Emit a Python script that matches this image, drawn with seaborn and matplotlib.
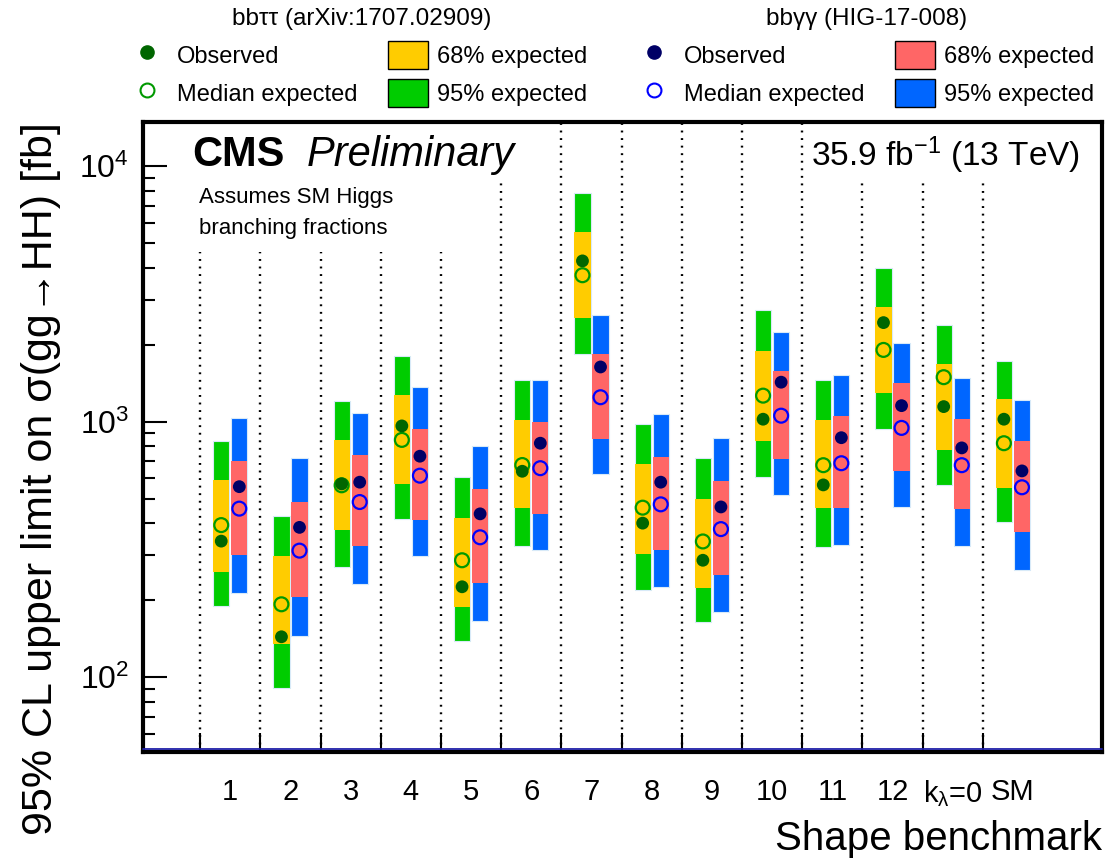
import numpy as np
import pandas as pd
import matplotlib
matplotlib.use("Agg")
import matplotlib.pyplot as plt
import seaborn as sns
from matplotlib.lines import Line2D
from matplotlib.patches import Patch
from matplotlib.ticker import LogLocator, FixedLocator, NullFormatter

# Shape benchmarks
categories = ["1", "2", "3", "4", "5", "6", "7", "8", "9", "10", "11", "12",
              "k$_{\\lambda}$=0", "SM"]

# bbtautau (arXiv:1707.02909) limits [fb]
obs_tt = [341, 144, 571, 963, 226, 640, 4260, 401, 287, 1023, 566, 2443, 1146, 1023]
exp_tt = [394, 193, 564, 849, 287, 677, 3744, 461, 340, 1265, 676, 1910, 1494, 824]
lo68_tt = [259, 135, 376, 571, 188, 461, 2541, 305, 224, 843, 459, 1296, 776, 552]
hi68_tt = [590, 299, 847, 1276, 421, 1019, 5517, 686, 499, 1898, 1016, 2814, 1689, 1228]
lo95_tt = [190, 91, 270, 418, 139, 327, 1842, 219, 165, 606, 322, 940, 566, 404]
hi95_tt = [843, 429, 1206, 1814, 608, 1461, 7839, 980, 719, 2746, 1453, 3999, 2399, 1735]

# bbgammagamma (HIG-17-008) limits [fb]
obs_gg = [557, 386, 580, 733, 436, 824, 1638, 580, 464, 1428, 866, 1156, 790, 642]
exp_gg = [457, 313, 485, 615, 353, 658, 1247, 475, 380, 1056, 688, 946, 676, 554]
lo68_gg = [301, 206, 325, 414, 234, 437, 856, 316, 251, 715, 461, 642, 456, 370]
hi68_gg = [702, 485, 741, 937, 546, 998, 1847, 726, 585, 1577, 1051, 1415, 1026, 841]
lo95_gg = [214, 145, 232, 297, 166, 314, 625, 225, 180, 518, 330, 465, 327, 264]
hi95_gg = [1032, 719, 1085, 1365, 806, 1461, 2611, 1073, 862, 2253, 1525, 2029, 1480, 1220]

sns.set_style("ticks")
plt.rcParams["font.family"] = ["Liberation Sans", "DejaVu Sans"]
plt.rcParams["mathtext.fontset"] = "custom"
plt.rcParams["mathtext.rm"] = "Liberation Sans"
plt.rcParams["mathtext.it"] = "Liberation Sans:italic"
plt.rcParams["mathtext.bf"] = "Liberation Sans:bold"
plt.rcParams["mathtext.default"] = "regular"
for key in ["text.color", "axes.labelcolor", "xtick.color", "ytick.color"]:
    plt.rcParams[key] = "black"

# colours
c95_tt, c68_tt = "#00cc00", "#ffcc00"
c95_gg, c68_gg = "#0066ff", "#ff6666"
cobs_tt, cexp_tt = "#006600", "#009900"
cobs_gg, cexp_gg = "#000066", "#0000ff"

fig = plt.figure(figsize=(11.17, 8.6), dpi=100)
ax = fig.add_axes([0.128, 0.1256, 0.8586, 0.7326])

x = np.arange(1, len(categories) + 1)
off = 0.15
w = 0.27

def bands(xpos, lo95, hi95, lo68, hi68, c95, c68):
    lo95, hi95 = np.array(lo95), np.array(hi95)
    lo68, hi68 = np.array(lo68), np.array(hi68)
    ax.bar(xpos, hi95 - lo95, bottom=lo95, width=w, color=c95,
           edgecolor="#d8eaf8", linewidth=0.8, zorder=2)
    ax.bar(xpos, hi68 - lo68, bottom=lo68, width=w, color=c68,
           edgecolor="none", linewidth=0, zorder=2.1)

bands(x - off, lo95_tt, hi95_tt, lo68_tt, hi68_tt, c95_tt, c68_tt)
bands(x + off, lo95_gg, hi95_gg, lo68_gg, hi68_gg, c95_gg, c68_gg)

df = pd.DataFrame({
    "x_tt": x - off, "x_gg": x + off,
    "obs_tt": obs_tt, "exp_tt": exp_tt,
    "obs_gg": obs_gg, "exp_gg": exp_gg,
})

sns.scatterplot(data=df, x="x_tt", y="exp_tt", ax=ax, marker="o", s=100,
                color=cexp_tt, facecolor="none", edgecolor=cexp_tt,
                linewidth=1.6, legend=False, zorder=4)
sns.scatterplot(data=df, x="x_tt", y="obs_tt", ax=ax, marker="o", s=85,
                color=cobs_tt, edgecolor="none", legend=False, zorder=5)
sns.scatterplot(data=df, x="x_gg", y="exp_gg", ax=ax, marker="o", s=100,
                color=cexp_gg, facecolor="none", edgecolor=cexp_gg,
                linewidth=1.6, legend=False, zorder=4)
sns.scatterplot(data=df, x="x_gg", y="obs_gg", ax=ax, marker="o", s=85,
                color=cobs_gg, edgecolor="none", legend=False, zorder=5)

# dotted separators between benchmarks (shortened under the text boxes)
for s in np.arange(0.5, len(categories) + 0.5):
    if s < 5:
        top = 0.794
    elif s == 5.5 or s > 11:
        top = 0.908
    else:
        top = 1.0
    ax.axvline(s, ymin=0, ymax=top, color="black", lw=1.7,
               linestyle=(0, (0.8, 2.4)), zorder=1)

ax.set_yscale("log")
ax.set_ylim(51, 14900)
ax.set_xlim(-0.45, 15.48)

ax.set_xticks(x)
ax.set_xticklabels(categories, fontsize=21)
ax.xaxis.set_minor_locator(FixedLocator(np.arange(0.5, len(categories) + 0.5)))
ax.tick_params(axis="x", which="major", length=0, pad=19)
ax.tick_params(axis="x", which="minor", direction="in", length=14, width=1.5,
               bottom=True, top=False)

ax.yaxis.set_major_locator(LogLocator(base=10, numticks=10))
ax.yaxis.set_minor_locator(LogLocator(base=10, subs=np.arange(2, 10), numticks=20))
ax.yaxis.set_minor_formatter(NullFormatter())
ax.tick_params(axis="y", which="major", direction="in", length=17, width=1.5,
               labelsize=23, pad=10, left=True, right=False)
ax.tick_params(axis="y", which="minor", direction="in", length=8.5, width=1.5,
               left=True, right=False)

for sp in ax.spines.values():
    sp.set_linewidth(3)
    sp.set_color("black")

ax.plot([0, 1], [0.004, 0.004], transform=ax.transAxes, color="#2020a8",
        lw=1.3, zorder=6, clip_on=False)

ax.set_ylabel("95% CL upper limit on σ(gg→HH) [fb]", loc="top", fontsize=31,
              labelpad=13)
ax.set_xlabel("Shape benchmark", loc="right", fontsize=29, labelpad=8)

ax.text(0.051, 0.9306, "CMS", transform=ax.transAxes, fontsize=30,
        fontweight="bold", va="baseline", ha="left")
ax.text(0.171, 0.9306, "Preliminary", transform=ax.transAxes, fontsize=30,
        style="italic", va="baseline", ha="left")
ax.text(0.977, 0.9306, "35.9 fb$^{-1}$ (13 TeV)", transform=ax.transAxes,
        fontsize=24, va="baseline", ha="right")
ax.text(0.0584, 0.871, "Assumes SM Higgs", transform=ax.transAxes,
        fontsize=16, va="baseline", ha="left")
ax.text(0.0584, 0.8217, "branching fractions", transform=ax.transAxes,
        fontsize=16, va="baseline", ha="left")

# legends above the frame
def legend_group(title, title_x, cobs, cexp, c68, c95, left):
    fig.text(title_x, 1 - 19 / 860, title, fontsize=17.5, ha="center",
             va="center")
    handles = [
        Line2D([], [], marker="o", ls="none", color=cobs, markersize=9.5),
        Line2D([], [], marker="o", ls="none", mfc="none", mec=cexp,
               markersize=10, mew=1.5),
        Patch(facecolor=c68, edgecolor="black", linewidth=1),
        Patch(facecolor=c95, edgecolor="black", linewidth=1),
    ]
    labels = ["Observed", "Median expected", "68% expected", "95% expected"]
    fig.legend(handles, labels, ncol=2, loc="upper left",
               bbox_to_anchor=(left, 1 - 41 / 860), frameon=False,
               fontsize=17, handlelength=1.7, handleheight=1.45,
               handletextpad=0.4, labelspacing=0.42, columnspacing=1.3,
               borderpad=0, borderaxespad=0)

legend_group("bbττ (arXiv:1707.02909)", 362 / 1117, cobs_tt, cexp_tt,
             c68_tt, c95_tt, 0.1137)
legend_group("bbγγ (HIG-17-008)", 867 / 1117, cobs_gg, cexp_gg,
             c68_gg, c95_gg, 0.5676)

fig.savefig("out.png", dpi=100)
